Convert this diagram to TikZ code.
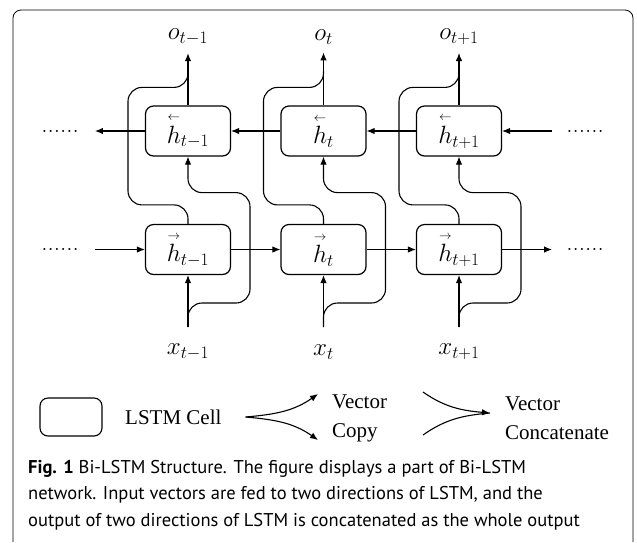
\documentclass[tikz,border=0pt]{standalone}
\usepackage{fix-cm}
\usepackage{amsmath}
\usepackage{fontspec}
\newfontfamily\capfont{PT Sans}
\newfontfamily\legfont{Liberation Serif}
\usepackage{tikz}
\usetikzlibrary{arrows.meta,%
                positioning}

\newcommand{\lvec}[1]{\overset{\scriptscriptstyle\leftarrow}{#1}}
\newcommand{\rvec}[1]{\overset{\scriptscriptstyle\rightarrow}{#1}}

\begin{document}
\begin{tikzpicture}[x = 1pt, y = 1pt, node distance = 118.5pt and 135.5pt, on grid]
  \tikzset{CellStyle/.style   = {shape          = rectangle,
                                 draw,
                                 rounded corners = 8pt,
                                 line width     = 1.2pt,
                                 minimum width  = 85pt,
                                 minimum height = 50pt,
                                 inner sep      = 0pt,
                                 font           = \fontsize{25}{29}\selectfont}}
  \tikzset{LabelStyle/.style  = {inner sep      = 0pt,
                                 font           = \fontsize{25}{29}\selectfont}}
  \tikzset{EdgeStyle/.style   = {line width     = 1.1pt,
                                 -{Latex[length = 8pt, width = 6.5pt]}}}
  \tikzset{WireStyle/.style   = {line width     = 1.1pt,
                                 rounded corners = 14pt}}
  \tikzset{LegendStyle/.style = {inner sep      = 0pt,
                                 align          = left,
                                 font           = \legfont\fontsize{21}{29}\selectfont}}
  \useasboundingbox (0,0) rectangle (637,-542);
  \draw[line width = 0.8pt, rounded corners = 8pt] (13,-542) -- (13,-10) -- (633,-10) -- (633,-542);

  % cells
  \node[CellStyle] (B1) at (188,-131) {$\lvec{h}_{t-1}$};
  \node[CellStyle, right=of B1] (B2) {$\lvec{h}_{t}$};
  \node[CellStyle, right=of B2] (B3) {$\lvec{h}_{t+1}$};
  \node[CellStyle, below=of B1] (F1) {$\rvec{h}_{t-1}$};
  \node[CellStyle, below=of B2] (F2) {$\rvec{h}_{t}$};
  \node[CellStyle, below=of B3] (F3) {$\rvec{h}_{t+1}$};

  % outputs and inputs
  \node[LabelStyle, above=94pt of B1] (O1) {$o_{t-1}$};
  \node[LabelStyle, above=94pt of B2] (O2) {$o_{t}$};
  \node[LabelStyle, above=94pt of B3] (O3) {$o_{t+1}$};
  \node[LabelStyle, below=102.5pt of F1] (I1) {$x_{t-1}$};
  \node[LabelStyle, below=102.5pt of F2] (I2) {$x_{t}$};
  \node[LabelStyle, below=102.5pt of F3] (I3) {$x_{t+1}$};
  \coordinate[above=25pt of I1] (S1);
  \coordinate[above=25pt of I2] (S2);
  \coordinate[above=25pt of I3] (S3);

  % dots
  \node[LabelStyle, left=128pt of B1] (DB1) {......};
  \node[LabelStyle, left=128pt of F1] (DF1) {......};
  \node[LabelStyle, right=126pt of B3] (DB3) {......};
  \node[LabelStyle, right=126pt of F3] (DF3) {......};

  % recurrent connections
  \draw[EdgeStyle] (B1.west) -- ([xshift=16pt]DB1.east);
  \draw[EdgeStyle] (B2.west) -- (B1.east);
  \draw[EdgeStyle] (B3.west) -- (B2.east);
  \draw[EdgeStyle] ([xshift=-14pt]DB3.west) -- (B3.east);
  \draw[EdgeStyle] ([xshift=16pt]DF1.east) -- (F1.west);
  \draw[EdgeStyle] (F1.east) -- (F2.west);
  \draw[EdgeStyle] (F2.east) -- (F3.west);
  \draw[EdgeStyle] (F3.east) -- ([xshift=-14pt]DF3.west);

  % inputs copied to both directions
  \draw[EdgeStyle] (S1) -- (F1.south);
  \draw[EdgeStyle] (S2) -- (F2.south);
  \draw[EdgeStyle] (S3) -- (F3.south);
  \draw[EdgeStyle, WireStyle] (S1) |- ++(62pt,24pt) |- ([yshift=-36pt]B1.south) -- (B1.south);
  \draw[EdgeStyle, WireStyle] (S2) |- ++(62pt,24pt) |- ([yshift=-36pt]B2.south) -- (B2.south);
  \draw[EdgeStyle, WireStyle] (S3) |- ++(62pt,24pt) |- ([yshift=-36pt]B3.south) -- (B3.south);

  % outputs concatenated
  \draw[EdgeStyle] (B1.north) -- ([yshift=-8pt]O1.south);
  \draw[EdgeStyle] (B2.north) -- ([yshift=-8pt]O2.south);
  \draw[EdgeStyle] (B3.north) -- ([yshift=-8pt]O3.south);
  \draw[WireStyle] (F1.north) |- ++(-60pt,19pt) |- ([yshift=18pt]B1.north) -- ++(0,16pt);
  \draw[WireStyle] (F2.north) |- ++(-60pt,19pt) |- ([yshift=18pt]B2.north) -- ++(0,16pt);
  \draw[WireStyle] (F3.north) |- ++(-60pt,19pt) |- ([yshift=18pt]B3.north) -- ++(0,16pt);

  % legend
  \node[draw, rounded corners = 8pt, line width = 1.1pt,
        minimum width = 62pt, minimum height = 38pt] (LegCell) at (71,-417) {};
  \node[LegendStyle, anchor=west] (LegText) at (125,-417) {LSTM Cell};
  \node[LegendStyle, anchor=west] (LegCopy) at (332,-418) {Vector\\Copy};
  \node[LegendStyle, anchor=west] (LegCat) at (505,-418) {Vector\\Concatenate};
  \coordinate (cp) at ([xshift=24pt]LegText.east);
  \draw[EdgeStyle] (cp) to[out=5, in=215] ([xshift=-14pt, yshift=24pt]LegCopy.west);
  \draw[EdgeStyle] (cp) to[out=-5, in=145] ([xshift=-14pt, yshift=-22pt]LegCopy.west);
  \coordinate (cat) at ([xshift=-15pt, yshift=5pt]LegCat.west);
  \draw[EdgeStyle] ([shift={(-67pt,21pt)}]cat) to[out=-35, in=175] (cat);
  \draw[line width = 1.1pt] ([shift={(-67pt,-22pt)}]cat) to[out=35, in=185] (cat);

  % caption
  \node[anchor=north west, inner sep=0pt, align=left,
        font=\capfont\fontsize{18.5}{26.5}\selectfont] (Caption) at (28,-460)
       {\textbf{Fig. 1} Bi-LSTM Structure. The figure displays a part of Bi-LSTM\\
        network. Input vectors are fed to two directions of LSTM, and the\\
        output of two directions of LSTM is concatenated as the whole output};
\end{tikzpicture}
\end{document}
